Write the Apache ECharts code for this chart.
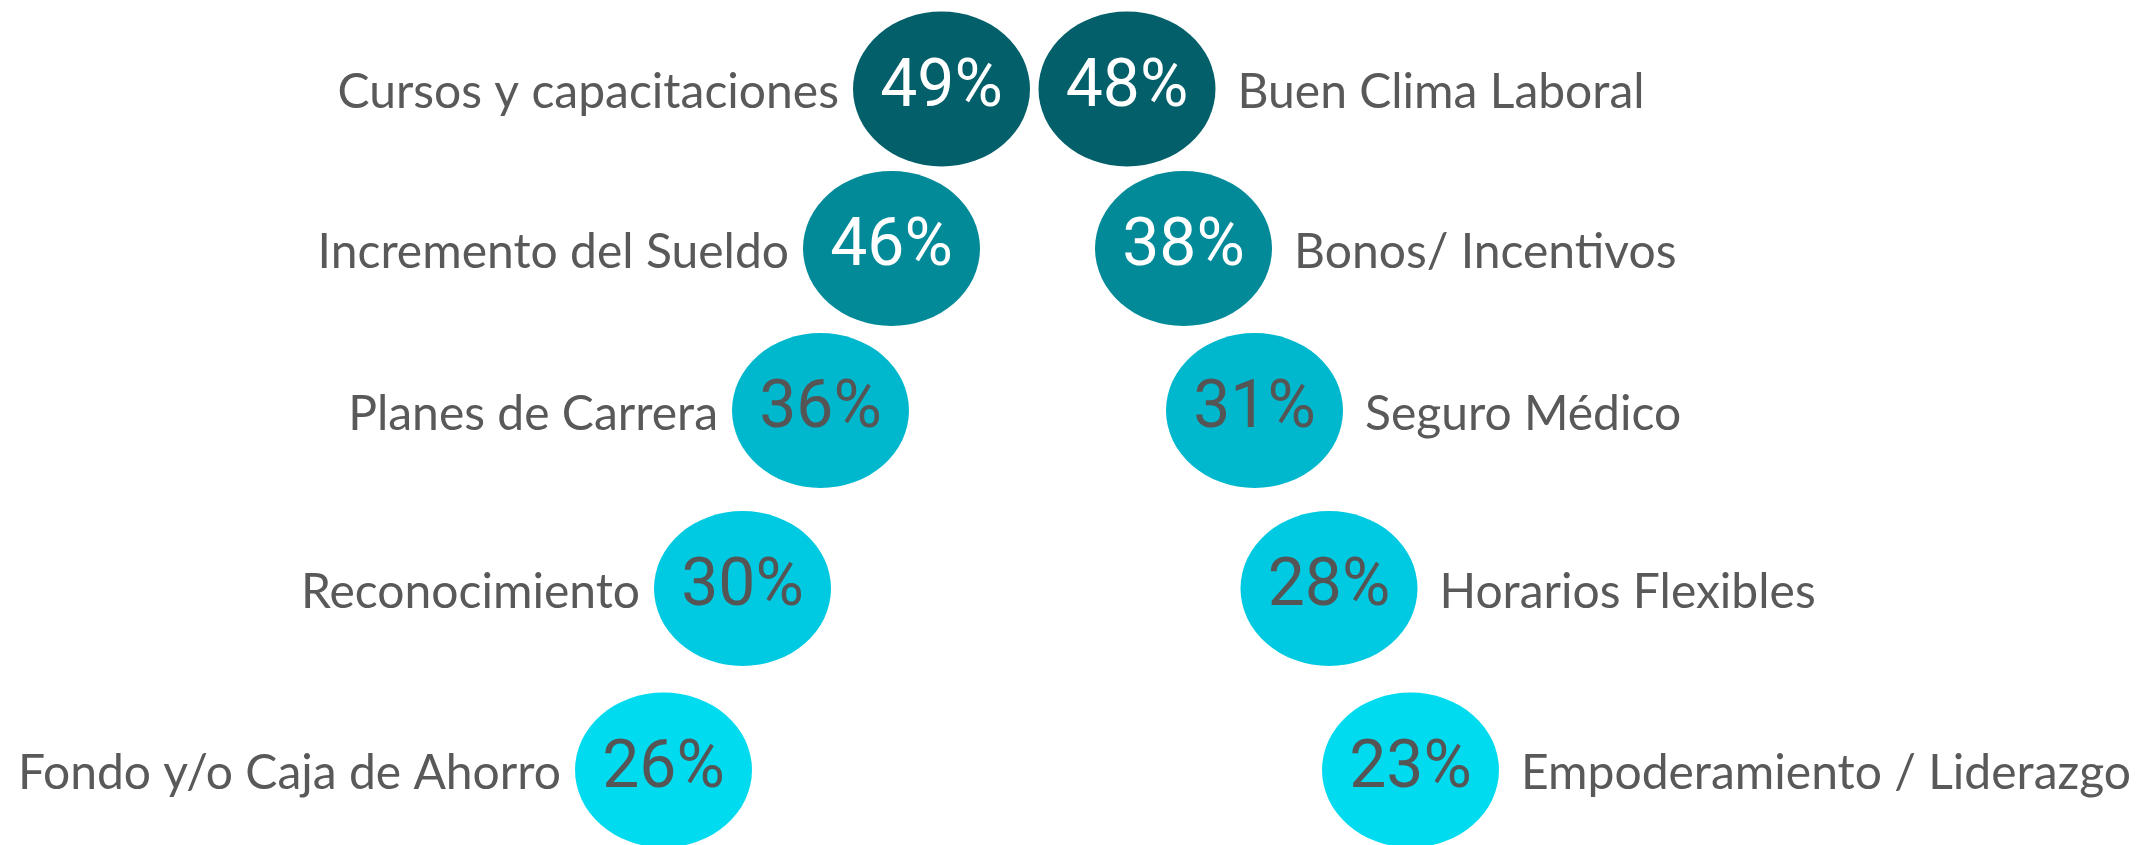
<!DOCTYPE html>
<html>
<head>
<meta charset="utf-8">
<script src="https://cdn.jsdelivr.net/npm/echarts@6/dist/echarts.min.js"></script>
<style>html,body{margin:0;padding:0;background:#fff;}#chart{width:2146px;height:845px;}</style>
</head>
<body>
<div id="chart"></div>
<script>
// Data
const leftCategories = ['Cursos y capacitaciones', 'Incremento del Sueldo', 'Planes de Carrera', 'Reconocimiento', 'Fondo y/o Caja de Ahorro'];
const leftValues = [49, 46, 36, 30, 26];
const rightCategories = ['Buen Clima Laboral', 'Bonos/ Incentivos', 'Seguro Médico', 'Horarios Flexibles', 'Empoderamiento / Liderazgo'];
const rightValues = [48, 38, 31, 28, 23];

// Layout (arc positions, in layout units of the hidden axes)
const rowY = [89, 248.5, 410.5, 588.5, 770];
const leftX = [941.5, 891.5, 820.5, 742.5, 663.5];
const rightX = [1127, 1183.5, 1254.5, 1329, 1410.5];
const rowColors = ['#035F69', '#028A99', '#00B8CD', '#00CAE2', '#00DBF0'];
const pctColors = ['#ffffff', '#ffffff', '#555555', '#555555', '#555555'];
const bubbleSize = [177, 155];

const labelFont = 'Lato, "Open Sans", sans-serif';
const labelSize = 48;
const pctFont = 'Roboto, sans-serif';
const pctSize = 66;

function buildPoints(xs, cats, vals) {
  return cats.map((c, i) => ({
    value: [xs[i], rowY[i], vals[i]],
    name: c,
    itemStyle: { color: rowColors[i], opacity: 1 },
    label: { color: pctColors[i] }
  }));
}
function buildNames(xs, cats, vals) {
  return cats.map((c, i) => ({ value: [xs[i], rowY[i], vals[i]], name: c }));
}

const pctLabel = { show: true, position: 'inside', formatter: p => p.value[2] + '%', fontFamily: pctFont, fontSize: pctSize, fontWeight: 'normal', textBorderWidth: 0.8, textBorderColor: 'inherit' };

const chart = echarts.init(document.getElementById('chart'), null, { renderer: 'canvas' });
chart.setOption({
  animation: false,
  backgroundColor: '#ffffff',
  grid: { left: 0, right: 0, top: 0, bottom: 0 },
  xAxis: { type: 'value', min: 0, max: 2146, show: false },
  yAxis: { type: 'value', min: 0, max: 845, inverse: true, show: false },
  series: [
    {
      type: 'scatter', symbol: 'circle', symbolSize: bubbleSize,
      itemStyle: { opacity: 1 },
      data: buildPoints(leftX, leftCategories, leftValues),
      label: pctLabel, emphasis: { disabled: true }, silent: true
    },
    {
      type: 'scatter', symbol: 'circle', symbolSize: bubbleSize,
      itemStyle: { opacity: 1 },
      data: buildPoints(rightX, rightCategories, rightValues),
      label: pctLabel, emphasis: { disabled: true }, silent: true
    },
    {
      type: 'scatter', symbol: 'circle', symbolSize: bubbleSize,
      itemStyle: { color: 'rgba(0,0,0,0)', opacity: 1 },
      data: buildNames(leftX, leftCategories, leftValues),
      label: { show: true, position: 'left', distance: 14, offset: [0, 4], formatter: p => p.name, fontFamily: labelFont, fontSize: labelSize, color: '#595959' },
      emphasis: { disabled: true }, silent: true
    },
    {
      type: 'scatter', symbol: 'circle', symbolSize: bubbleSize,
      itemStyle: { color: 'rgba(0,0,0,0)', opacity: 1 },
      data: buildNames(rightX, rightCategories, rightValues),
      label: { show: true, position: 'right', distance: 22, offset: [0, 4], formatter: p => p.name, fontFamily: labelFont, fontSize: labelSize, color: '#595959' },
      emphasis: { disabled: true }, silent: true
    }
  ]
});
</script>
</body>
</html>
